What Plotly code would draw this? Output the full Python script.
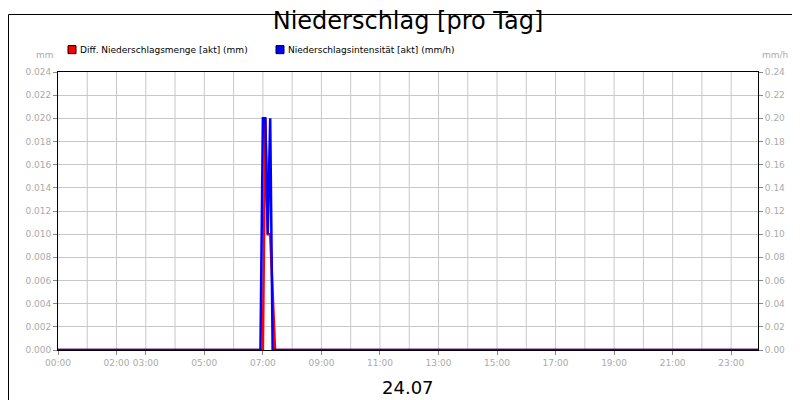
import plotly.graph_objects as go

# 24.07, times as HH:MM
menge_t = ["00:00", "07:00", "07:05", "07:10", "07:15", "07:25", "23:55"]
menge_v = [0, 0, 0.020, 0.010, 0.010, 0, 0]
int_t = ["00:00", "06:55", "07:00", "07:05", "07:10", "07:15", "07:20", "23:55"]
int_v = [0, 0, 0.20, 0.20, 0.10, 0.20, 0, 0]
tick_labels = ["00:00", "02:00", "03:00", "05:00", "07:00", "09:00", "11:00",
               "13:00", "15:00", "17:00", "19:00", "21:00", "23:00"]

day = "2024-07-24 "
fig = go.Figure()
fig.add_trace(go.Scatter(x=[day + t for t in int_t], y=int_v, mode="lines",
                         line=dict(color="#0000ff", width=2.5), yaxis="y2",
                         name="Niederschlagsintensität [akt] (mm/h)"))
fig.add_trace(go.Scatter(x=[day + t for t in menge_t], y=menge_v, mode="lines",
                         line=dict(color="#ff0000", width=2.5), yaxis="y",
                         name="Diff. Niederschlagsmenge [akt] (mm)"))

grid = "#c8c8c8"
tickfont = dict(family="DejaVu Sans", size=9, color="#aaaaaa")
fig.update_layout(
    width=800, height=400, paper_bgcolor="white", plot_bgcolor="white",
    margin=dict(l=50, r=50, t=64, b=58, autoexpand=False),
    title=dict(text="Niederschlag [pro Tag]", x=0.5, y=0.99, yanchor="top",
               font=dict(family="DejaVu Sans", size=24, color="black")),
    showlegend=False,
    xaxis=dict(type="date", range=[day + "00:00", day + "24:00"],
               tickvals=[day + t for t in tick_labels], ticktext=tick_labels,
               tickangle=0, automargin=False,
               tickfont=tickfont, showgrid=False, ticks="outside", tickcolor="#888",
               ticklen=4, showline=True, linecolor="black", mirror=True),
    yaxis=dict(range=[0, 0.024], dtick=0.002, tickformat=".3f", tickfont=tickfont,
               automargin=False,
               gridcolor=grid, showline=True, linecolor="black", mirror=True,
               ticks="outside", ticklen=4, tickcolor="#888", zeroline=False),
    yaxis2=dict(range=[0, 0.24], dtick=0.02, tickformat=".2f", tickfont=tickfont,
                automargin=False,
                overlaying="y", side="right", showgrid=False, zeroline=False,
                ticks="outside", ticklen=4, tickcolor="#888"),
)
# hourly vertical grid lines
for h in range(1, 24):
    fig.add_vline(x=day + f"{h:02d}:00", line_color=grid, line_width=1, layer="below")

fig.add_annotation(text="mm", x=0.0, y=1.0, xref="paper", yref="paper", xshift=-2,
                   yshift=10, showarrow=False, xanchor="right", yanchor="bottom",
                   font=dict(family="DejaVu Sans", size=9, color="#aaaaaa"))
fig.add_annotation(text="mm/h", x=1.0, y=1.0, xref="paper", yref="paper", xshift=2,
                   yshift=10, showarrow=False, xanchor="left", yanchor="bottom",
                   font=dict(family="DejaVu Sans", size=9, color="#aaaaaa"))
# legend drawn as text with coloured squares
for xp, col, label in [(60, "#ff0000", "Diff. Niederschlagsmenge [akt] (mm)"),
                       (268, "#0000ff", "Niederschlagsintensität [akt] (mm/h)")]:
    fig.add_shape(type="rect", xref="paper", yref="paper",
                  x0=(xp - 50) / 700, x1=(xp - 42) / 700, y0=1.066, y1=1.095,
                  fillcolor=col, line=dict(color="black", width=1))
    fig.add_annotation(text=label, x=(xp - 40) / 700, y=1.08, xref="paper", yref="paper",
                       showarrow=False, xanchor="left", yanchor="middle",
                       font=dict(family="DejaVu Sans", size=9, color="black"))
fig.add_annotation(text="24.07", x=0.5, y=-0.09, xref="paper", yref="paper",
                   showarrow=False, yanchor="top",
                   font=dict(family="DejaVu Sans", size=18, color="black"))
# outer frame
fig.add_shape(type="rect", xref="paper", yref="paper", x0=-49.5 / 700, x1=749.5 / 700,
              y0=-57.5 / 278, y1=335.5 / 278, line=dict(color="black", width=1))

fig.write_html("out.html")
